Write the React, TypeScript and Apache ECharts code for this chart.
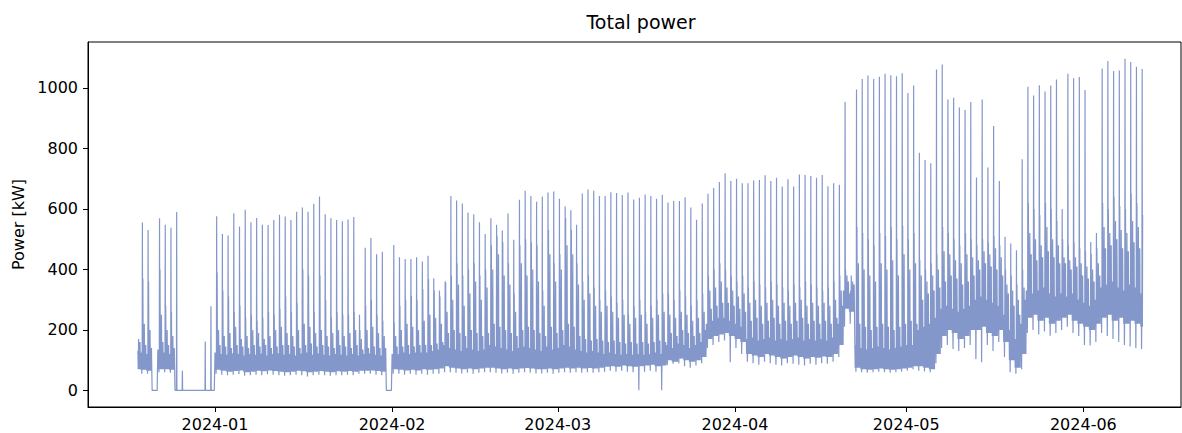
import React, { useEffect, useRef } from "react";
import * as echarts from "echarts";

// Daily values, one entry per calendar day starting 2023-12-18 (index 0) to 2024-06-11 (index 176)
const FIRST_DAY = { y: 2023, m: 11, d: 18 };
const FIRST_SAMPLE_HOUR = 11; // data starts late on the first day
const LAST_SAMPLE_HOUR = 9; // data stops early on the last day

// daily tall spike (kW)
const peak: (number | null)[] = [
  null,
  555, 530, 0, 569, 548, 538, 590, 65, 0, 0, 0, 162, 278,
  576, 517, 512, 586, 542, 597, 556, 570, 548, 547, 563, 581, 575, 563, 591, 605, 591, 617, 641, 582, 569, 563, 559, 565, 573,
  250, 472, 504, 450, 458, 0, 481, 440, 434, 434, 440, 426, 445, 371, 330, 361,
  643, 628, 618, 588, 582, 556, 517, 569, 548, 529, 585, 498, 630, 660, 643, 624, 641, 654, 658, 634, 608, 596, 548, 651, 664, 660, 643, 643, 655, 653, 646, 654, 631, 637, 648, 643, 634, 647,
  621, 626, 626, 639, 605, 564, 618, 650, 669, 689, 718, 692, 700, 685, 685, 694, 696, 711, 692, 703, 674, 698, 674, 714, 712, 709, 703, 712, 675, 685, 680,
  954, 330, 995, 1030, 1041, 1030, 1037, 1047, 1042, 1039, 1049, 983, 1008, 786, 762, 751, 1061, 1078, 962, 968, 935, 927, 954, 704, 962, 737, 874, 692,
  508, 486, 463, 764,
  1004, 975, 1009, 988, 1008, 1028, 600, 1047, 1032, 1036, 993, 491, 520, 1064, 1089, 1056, 1058, 1097, 1086, 1070, 1063,
];

// daily secondary spike, right after the tall one (kW)
const second: number[] = [
  180,
  370, 360, 0, 400, 280, 260, 0, 0, 0, 0, 0, 0, 0,
  390, 330, 310, 260, 280, 240, 250, 230, 240, 260, 250, 270, 310, 260, 290, 400, 380, 260, 380, 300, 240, 260, 250, 250, 260,
  200, 280, 300, 250, 230, 0, 225, 280, 300, 313, 300, 335, 368, 330, 310, 357,
  380, 420, 380, 400, 420, 380, 400, 480, 510, 490, 420, 320, 480, 500, 490, 480, 330, 530, 420, 450, 570, 530, 420, 360, 380, 340, 300, 330, 310, 290, 300, 250, 280, 300, 260, 280, 300, 320,
  320, 300, 330, 310, 280, 300, 320, 380, 400, 420, 400, 380, 360, 380, 340, 360, 350, 340, 360, 350, 340, 330, 350, 340, 360, 350, 340, 330, 340, 360, 380,
  400, 380, 540, 520, 500, 480, 520, 510, 540, 500, 544, 500, 520, 430, 400, 420, 450, 540, 520, 500, 480, 520, 500, 480, 500, 490, 510, 480,
  400, 380, 350, 400,
  620, 600, 580, 620, 600, 560, 500, 480, 490, 470, 460, 450, 470, 620, 600, 640, 610, 600, 650, 620, 580,
];

// afternoon shoulder (kW)
const mid: number[] = [
  170,
  220, 200, 0, 250, 200, 180, 0, 0, 0, 0, 0, 0, 0,
  200, 180, 190, 210, 170, 180, 200, 190, 170, 180, 200, 210, 190, 180, 200, 220, 210, 190, 200, 180, 190, 200, 180, 190, 200,
  170, 200, 210, 190, 180, 0, 180, 200, 220, 210, 200, 230, 250, 240, 220, 260,
  300, 350, 280, 320, 360, 300, 340, 400, 450, 380, 350, 260, 420, 380, 400, 360, 280, 450, 360, 400, 480, 450, 350, 300, 320, 280, 260, 280, 260, 240, 250, 220, 240, 250, 220, 240, 250, 260,
  250, 240, 260, 250, 230, 240, 260, 330, 340, 360, 340, 330, 310, 320, 290, 300, 280, 290, 300, 280, 290, 280, 290, 300, 280, 290, 280, 290, 280, 300, 330,
  380, 360, 420, 400, 380, 360, 420, 400, 430, 380, 450, 400, 420, 380, 360, 380, 400, 460, 450, 430, 420, 450, 440, 430, 460, 450, 470, 440,
  350, 330, 300, 340,
  520, 500, 480, 540, 500, 480, 440, 430, 440, 420, 410, 400, 420, 540, 520, 560, 530, 520, 560, 540, 500,
];

// night / morning upper level of the base load (kW)
const top: number[] = [
  130,
  125, 120, 0, 135, 125, 120, 0, 0, 0, 0, 0, 0, 0,
  125, 120, 118, 122, 120, 115, 120, 118, 122, 115, 120, 122, 118, 120, 115, 122, 125, 118, 122, 118, 115, 120, 118, 115, 120,
  115, 120, 122, 118, 115, 0, 120, 120, 125, 120, 125, 125, 125, 130, 135, 150,
  140, 135, 130, 140, 135, 130, 135, 150, 145, 140, 135, 130, 140, 145, 140, 135, 130, 145, 135, 140, 150, 145, 135, 130, 125, 130, 125, 120, 125, 120, 118, 120, 118, 120, 118, 120, 125, 120,
  150, 140, 155, 150, 140, 150, 160, 220, 230, 240, 240, 230, 220, 210, 170, 175, 165, 170, 175, 165, 170, 165, 170, 175, 165, 170, 165, 170, 165, 175, 220,
  330, 320, 150, 140, 135, 140, 145, 140, 135, 140, 145, 150, 150, 200, 210, 220, 240, 270, 280, 270, 260, 270, 280, 300, 310, 300, 290, 280,
  250, 200, 170, 220,
  330, 320, 330, 340, 320, 310, 320, 310, 320, 300, 290, 280, 300, 340, 350, 360, 340, 330, 350, 340, 320,
];

// evening upper level of the base load (kW)
const eve: number[] = [
  160,
  150, 140, 0, 160, 150, 140, 0, 0, 0, 0, 0, 0, 0,
  150, 145, 140, 150, 145, 140, 150, 145, 150, 140, 145, 150, 150, 145, 140, 150, 155, 145, 150, 145, 140, 150, 145, 140, 150,
  135, 140, 145, 140, 140, 0, 145, 145, 150, 145, 150, 150, 150, 155, 160, 190,
  200, 190, 180, 200, 190, 180, 190, 220, 210, 200, 190, 180, 200, 210, 200, 190, 180, 210, 190, 200, 220, 210, 180, 170, 165, 170, 165, 160, 165, 160, 155, 160, 155, 160, 155, 160, 165, 160,
  190, 180, 200, 190, 180, 190, 200, 270, 280, 290, 290, 280, 270, 260, 230, 240, 220, 230, 240, 220, 230, 220, 230, 240, 220, 230, 220, 230, 220, 240, 280,
  360, 350, 220, 210, 200, 210, 220, 210, 200, 210, 220, 230, 220, 300, 320, 330, 340, 360, 380, 370, 350, 360, 380, 400, 420, 410, 400, 380,
  320, 280, 250, 300,
  450, 430, 440, 460, 440, 420, 420, 400, 410, 380, 370, 360, 380, 470, 480, 500, 470, 460, 490, 470, 450,
];

// lower edge of the base load (kW)
const low: number[] = [
  70,
  68, 65, 0, 70, 70, 68, 0, 0, 0, 0, 0, 0, 0,
  68, 65, 62, 64, 66, 60, 62, 65, 63, 66, 64, 62, 60, 62, 65, 63, 60, 62, 64, 62, 60, 63, 62, 64, 62,
  65, 65, 66, 64, 62, 0, 70, 68, 66, 68, 66, 70, 68, 70, 72, 80,
  75, 72, 70, 72, 70, 72, 75, 75, 72, 70, 72, 70, 72, 74, 72, 70, 70, 72, 70, 72, 75, 72, 75, 72, 74, 72, 75, 78, 80, 78, 82, 80, 78, 80, 82, 85, 80, 82,
  100, 95, 105, 100, 95, 100, 110, 170, 180, 185, 190, 180, 170, 160, 120, 115, 110, 120, 115, 110, 105, 110, 115, 110, 105, 110, 108, 112, 110, 120, 150,
  270, 260, 75, 70, 68, 70, 72, 70, 68, 70, 72, 75, 80, 80, 75, 70, 120, 180, 200, 190, 170, 180, 200, 200, 210, 190, 180, 200,
  160, 100, 75, 120,
  240, 250, 230, 240, 220, 230, 240, 250, 230, 220, 210, 200, 220, 240, 250, 230, 240, 220, 230, 220, 210,
];

// lowest single reading of the day (kW)
const dip: number[] = [
  60,
  55, 55, 0, 60, 60, 58, 0, 0, 0, 0, 0, 0, 0,
  55, 52, 50, 52, 54, 48, 50, 52, 50, 53, 52, 50, 48, 50, 52, 50, 46, 50, 52, 50, 48, 50, 50, 52, 50,
  55, 55, 55, 52, 50, 0, 55, 55, 52, 55, 52, 55, 52, 55, 55, 60,
  60, 58, 56, 58, 55, 58, 60, 60, 58, 56, 58, 55, 58, 60, 58, 56, 56, 58, 55, 58, 60, 58, 60, 58, 60, 58, 60, 62, 65, 62, 65, 62, 60, 0, 62, 65, 62, 0,
  85, 88, 90, 80, 75, 82, 90, 140, 150, 160, 165, 93, 140, 120, 95, 90, 85, 95, 90, 85, 82, 90, 88, 85, 82, 88, 85, 90, 88, 95, 110,
  210, 220, 62, 60, 58, 60, 62, 60, 58, 60, 62, 65, 70, 65, 62, 60, 90, 140, 150, 137, 130, 140, 150, 104, 93, 150, 130, 160,
  110, 60, 55, 70,
  190, 200, 185, 195, 181, 190, 200, 210, 190, 180, 150, 148, 160, 190, 180, 170, 160, 150, 145, 140, 137,
];

const X_TICK_MONTHS: [number, number][] = [
  [2024, 0], [2024, 1], [2024, 2], [2024, 3], [2024, 4], [2024, 5],
];
const Y_TICKS = [0, 200, 400, 600, 800, 1000];

// intraday order in which the daily readings occur (hour, which reading)
const PROFILE: [number, string][] = [
  [0, "top"], [1.5, "low"], [3, "top"], [4.5, "dip"], [6, "top"], [7, "peak"], [8, "low"],
  [9, "second"], [10.5, "low"], [12, "top"], [13.5, "low"], [15, "mid"], [16.5, "low"],
  [18, "eve"], [19.5, "low"], [21, "eve"], [22.5, "low"],
];

const HOUR = 3600 * 1000;
const DAY = 24 * HOUR;

function buildSeries(): [number, number][] {
  const lookup: Record<string, (number | null)[]> = { peak, second, mid, top, eve, low, dip };
  const out: [number, number][] = [];
  const n = peak.length;
  for (let i = 0; i < n; i++) {
    const dayStart = new Date(FIRST_DAY.y, FIRST_DAY.m, FIRST_DAY.d + i).getTime();
    for (const [h, key] of PROFILE) {
      if (i === 0 && h < FIRST_SAMPLE_HOUR) continue;
      if (i === n - 1 && h > LAST_SAMPLE_HOUR) continue;
      const v = lookup[key][i];
      if (v === null || v === undefined) continue;
      out.push([dayStart + h * HOUR, v]);
    }
  }
  return out;
}

export default function App() {
  const ref = useRef<HTMLDivElement>(null);
  useEffect(() => {
    if (!ref.current) return;
    const chart = echarts.init(ref.current, undefined, { renderer: "svg" });
    const jan1 = new Date(2024, 0, 1).getTime();
    const monthTicks = X_TICK_MONTHS.map(([y, m]) => new Date(y, m, 1).getTime());
    const font = "DejaVu Sans";
    chart.setOption({
      animation: false,
      backgroundColor: "#ffffff",
      grid: {
        left: 88,
        right: 1,
        top: 42,
        bottom: 26,
        show: true,
        borderColor: "#000",
        borderWidth: 1,
        containLabel: false,
      },
      graphic: [
        {
          type: "text",
          x: 641,
          y: 22,
          style: {
            text: "Total power",
            font: `19px ${font}`,
            fill: "#000",
            textAlign: "center",
            textVerticalAlign: "middle",
          },
        },
      ],
      xAxis: {
        type: "value",
        min: jan1 - 22.23 * DAY,
        max: jan1 + 169.09 * DAY,
        splitLine: { show: false },
        axisLine: { show: true, onZero: false, lineStyle: { color: "#000", width: 1 } },
        axisTick: {
          show: true,
          length: 5,
          lineStyle: { color: "#000" },
          customValues: monthTicks,
        },
        axisLabel: {
          customValues: monthTicks,
          margin: 9,
          color: "#000",
          fontFamily: font,
          fontSize: 16,
          formatter: (v: number) => {
            const d = new Date(v);
            const mm = String(d.getMonth() + 1).padStart(2, "0");
            return `${d.getFullYear()}-${mm}`;
          },
        },
      },
      yAxis: {
        type: "value",
        min: -55,
        max: 1152,
        name: "Power [kW]",
        nameLocation: "middle",
        nameGap: 60,
        nameTextStyle: { color: "#000", fontFamily: font, fontSize: 16 },
        splitLine: { show: false },
        axisLine: { show: true, onZero: false, lineStyle: { color: "#000", width: 1 } },
        axisTick: {
          show: true,
          length: 5,
          lineStyle: { color: "#000" },
          customValues: Y_TICKS,
        },
        axisLabel: {
          customValues: Y_TICKS,
          margin: 10,
          color: "#000",
          fontFamily: font,
          fontSize: 16,
          formatter: (v: number) => String(v),
        },
      },
      series: [
        {
          type: "line",
          data: buildSeries(),
          showSymbol: false,
          symbol: "none",
          lineStyle: { color: "#8497ca", width: 1.2 },
          clip: true,
        },
      ],
    });
    return () => chart.dispose();
  }, []);
  return (
    <div
      ref={ref}
      style={{ position: "fixed", left: 0, top: 0, width: 1182, height: 433 }}
    />
  );
}
